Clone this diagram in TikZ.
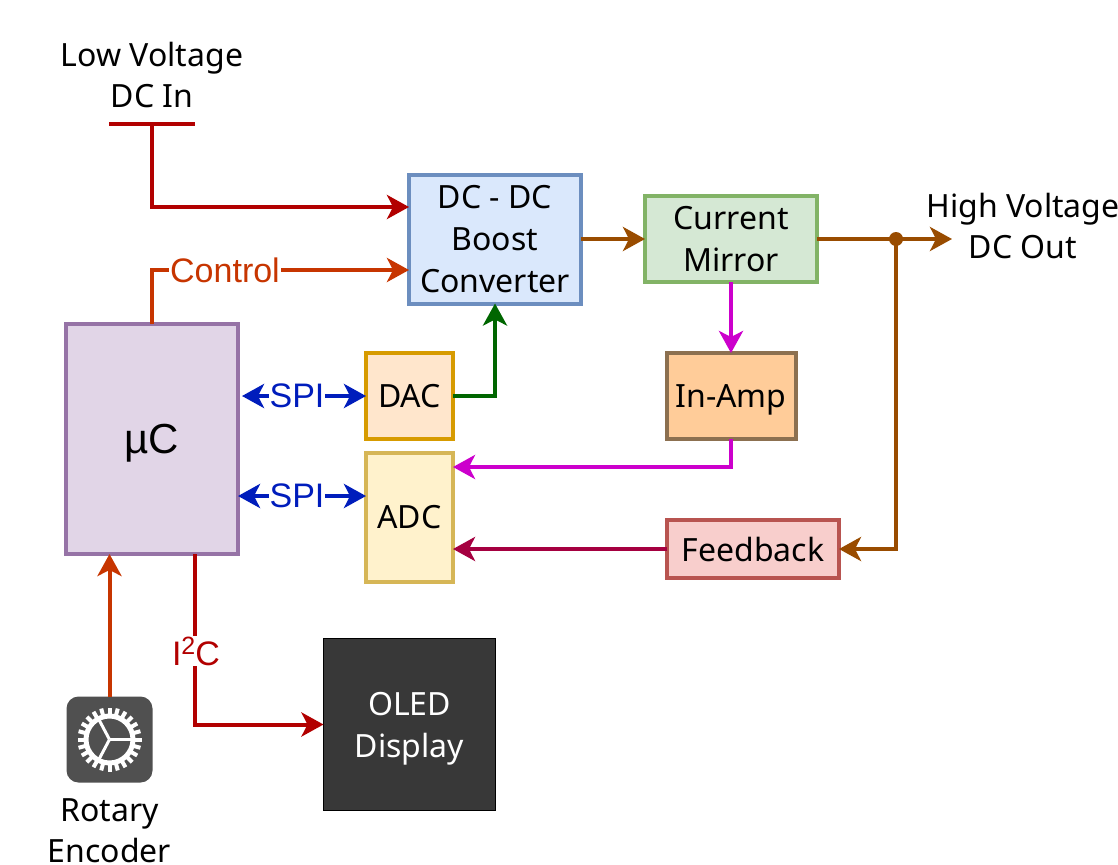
\documentclass[tikz,border=0pt]{standalone}
\usepackage{xcolor}
\usepackage{fontspec}
\setmainfont{Noto Sans}
\newfontfamily\armfont{Liberation Sans}
\usetikzlibrary{arrows.meta, positioning}

\definecolor{dcred}{HTML}{B20000}
\definecolor{ctlorange}{HTML}{C73500}
\definecolor{hvbrown}{HTML}{994C00}
\definecolor{sensepink}{HTML}{CC00CC}
\definecolor{fbwine}{HTML}{A50040}
\definecolor{dacgreen}{HTML}{006600}
\definecolor{spiblue}{HTML}{001DBC}

\tikzset{
    block/.style={draw, line width=4pt, outer sep=0pt, inner sep=0pt, align=center,
        font=\fontsize{32}{42}\selectfont},
    wire/.style={line width=4pt, ->},
    onwire/.style={fill=white, inner sep=1pt, font=\armfont\fontsize{34}{40}\selectfont},
    plain/.style={align=center, inner sep=0pt, font=\fontsize{32}{41}\selectfont},
    >={Stealth[length=22pt, width=24pt, inset=6pt]}
}

\begin{document}
\begin{tikzpicture}[x=1pt, y=-1pt, on grid]
    \useasboundingbox (0,0) rectangle (1118,864);

    \node[block, fill={rgb,255:red,218;green,232;blue,252}, draw={rgb,255:red,108;green,142;blue,191},
        minimum width=172pt, minimum height=129pt] (boost) at (495,239) {DC - DC\\Boost\\Converter};
    \node[block, fill={rgb,255:red,213;green,232;blue,212}, draw={rgb,255:red,130;green,179;blue,102},
        minimum width=172pt, minimum height=86pt] (mirror) [right=236pt of boost] {Current\\Mirror};
    \node[block, fill={rgb,255:red,255;green,204;blue,153}, draw={rgb,255:red,140;green,112;blue,80},
        minimum width=129pt, minimum height=86pt, text depth=0pt] (inamp) [below=157pt of mirror] {In-Amp};
    \node[block, fill={rgb,255:red,248;green,206;blue,204}, draw={rgb,255:red,184;green,84;blue,80},
        minimum width=172pt, minimum height=58pt] (feedback) at (753,549) {Feedback};
    \node[block, fill={rgb,255:red,255;green,230;blue,204}, draw={rgb,255:red,215;green,155;blue,0},
        minimum width=87pt, minimum height=86pt] (dac) at (409.5,396) {DAC};
    \node[block, fill={rgb,255:red,255;green,242;blue,204}, draw={rgb,255:red,214;green,182;blue,86},
        minimum width=87pt, minimum height=129pt] (adc) [below=121.5pt of dac] {ADC};
    \node[block, fill={rgb,255:red,225;green,213;blue,231}, draw={rgb,255:red,150;green,115;blue,166},
        minimum width=172pt, minimum height=230pt, text depth=0pt,
        font=\armfont\fontsize{42}{50}\selectfont] (uc) at (152,439) {µC};
    \node[block, fill={rgb,255:red,56;green,56;blue,56}, draw=black, line width=1pt, text=white,
        minimum width=172pt, minimum height=172pt, text depth=0pt] (oled) at (409.5,724.5) {OLED\\Display};

    \node[fill={rgb,255:red,80;green,80;blue,80}, rounded corners=12pt, outer sep=0pt,
        minimum size=86pt] (encoder) at (109.5,739.5) {};
    \foreach \a in {0,15,...,345}
        \draw[white, line width=4pt] ([shift={(\a:24pt)}]encoder.center) -- ([shift={(\a:32pt)}]encoder.center);
    \draw[white, line width=5pt] (encoder.center) circle (23.5pt);
    \foreach \a in {0,118,242}
        \draw[white, line width=3pt] (encoder.center) -- ([shift={(\a:22pt)}]encoder.center);

    \node[plain] (lowlabel) at (152,75) {Low Voltage\\DC In};
    \node[plain] (highlabel) at (1023,226) {High Voltage\\DC Out};
    \node[plain] (enclabel) at (109.5,831) {Rotary\\Encoder};

    \coordinate (barl) at (109,124);
    \coordinate (barr) at (195,124);
    \coordinate (barm) at (152,124);
    \coordinate (tap) at (896,239);
    \coordinate (out) at (952,239);
    \fill[hvbrown] (tap) circle (7pt);

    \draw[dcred, line width=4pt] (barl) -- (barr);
    \draw[wire, dcred] (barm) |- (boost.west |- 0,207);
    \draw[wire, ctlorange] (uc.north) |- (boost.west |- 0,270);
    \draw[wire, hvbrown] (boost.east |- mirror) -- (mirror.west);
    \draw[wire, hvbrown] (mirror.east) -- (out);
    \draw[wire, hvbrown] (tap) |- (feedback.east);
    \draw[wire, sensepink] (mirror.south) -- (inamp.north);
    \draw[wire, sensepink] (inamp.south) |- (adc.east |- 0,467);
    \draw[wire, fbwine] (feedback.west) -- (adc.east |- feedback);
    \draw[wire, dacgreen] (dac.east) -| (boost.south);
    \draw[wire, <->, spiblue] (242,396) -- (dac.west);
    \draw[wire, <->, spiblue] (uc.east |- 0,496) -- (adc.west |- 0,496);
    \draw[wire, dcred] (uc.south -| 195,0) |- (oled.west);
    \draw[wire, ctlorange] (encoder.north) -- (uc.south -| encoder);

    \node[onwire, text=ctlorange] (ctl) at (225,270) {Control};
    \node[onwire, text=spiblue] (spia) at (297,396) {SPI};
    \node[onwire, text=spiblue] (spib) at (297,496) {SPI};
    \node[onwire, text=dcred] (iic) at (196,651) {I\raisebox{11pt}{\fontsize{25}{25}\selectfont 2}C};
\end{tikzpicture}
\end{document}
